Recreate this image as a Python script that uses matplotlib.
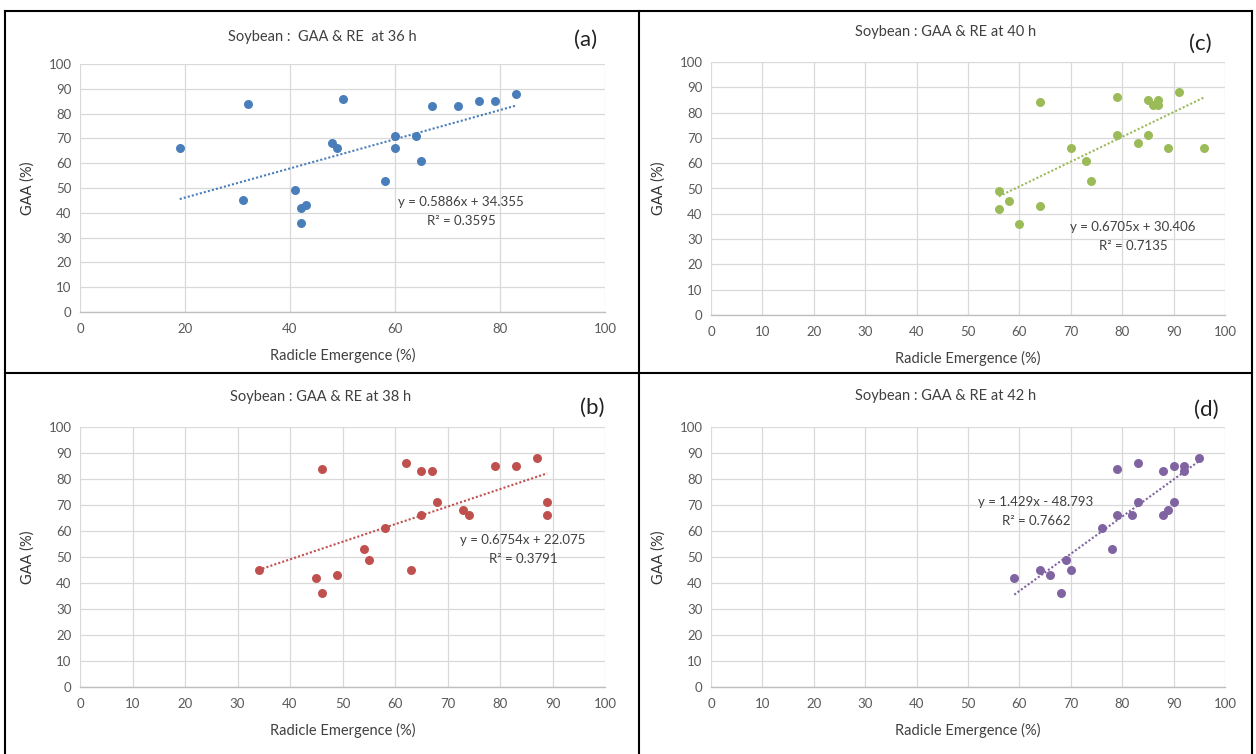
import matplotlib
matplotlib.use('Agg')
import matplotlib.pyplot as plt
import numpy as np
from matplotlib import lines

plt.rcParams['font.family'] = ['Lato', 'DejaVu Sans']

# radicle emergence (%) / GAA (%) per germination time
RE_36 = [19, 31, 32, 41, 42, 42, 43, 48, 49, 50, 58, 60, 60, 64, 65, 67, 72, 76, 79, 83]
GAA_36 = [66, 45, 84, 49, 42, 36, 43, 68, 66, 86, 53, 71, 66, 71, 61, 83, 83, 85, 85, 88]

RE_38 = [34, 45, 46, 46, 49, 54, 55, 58, 62, 63, 65, 65, 67, 68, 73, 74, 79, 83, 87, 89, 89]
GAA_38 = [45, 42, 84, 36, 43, 53, 49, 61, 86, 45, 83, 66, 83, 71, 68, 66, 85, 85, 88, 71, 66]

RE_40 = [56, 56, 58, 60, 64, 64, 70, 73, 74, 79, 79, 83, 85, 85, 86, 87, 87, 89, 91, 96]
GAA_40 = [49, 42, 45, 36, 84, 43, 66, 61, 53, 86, 71, 68, 85, 71, 83, 85, 83, 66, 88, 66]

RE_42 = [59, 64, 66, 68, 69, 70, 76, 78, 79, 79, 82, 83, 83, 88, 88, 89, 90, 90, 92, 92, 95]
GAA_42 = [42, 45, 43, 36, 49, 45, 61, 53, 84, 66, 66, 86, 71, 83, 66, 68, 85, 71, 85, 83, 88]

# trendline labels as printed on the chart: slope, intercept, R^2
FIT_36 = (0.5886, 34.355, 0.3595)
FIT_38 = (0.6754, 22.075, 0.3791)
FIT_40 = (0.6705, 30.406, 0.7135)
FIT_42 = (1.429, -48.793, 0.7662)

# the drawn 40 h trendline does not follow its printed label
LINE_40 = (0.98, -8.0)

TITLES = {
    '36': 'Soybean :  GAA & RE  at 36 h',
    '38': 'Soybean : GAA & RE at 38 h',
    '40': 'Soybean : GAA & RE at 40 h',
    '42': 'Soybean : GAA & RE at 42 h',
}

W, H = 1256, 754
TXT = '#404040'
TICK = '#595959'


def fx(px):
    return px / W


def fy(py):
    return 1 - py / H


def panel(fig, box, re, gaa, fit, color, hours, letter, letter_pos,
          title_pos, eq_pos, xstep, eq_fmt, line=None):
    x0, y0, x1, y1 = box
    ax = fig.add_axes([fx(x0), fy(y1), fx(x1) - fx(x0), fy(y0) - fy(y1)])
    ax.set_xlim(0, 100)
    ax.set_ylim(0, 100)
    ax.set_xticks(np.arange(0, 101, xstep))
    ax.set_yticks(np.arange(0, 101, 10))
    ax.grid(True, color='#D9D9D9', linewidth=0.9)
    ax.set_axisbelow(True)
    for s in ['top', 'right', 'left']:
        ax.spines[s].set_visible(False)
    ax.spines['bottom'].set_color('#BFBFBF')
    ax.spines['bottom'].set_linewidth(1.0)
    ax.tick_params(length=0, labelsize=9.5, colors=TICK, pad=8)
    ax.tick_params(axis='y', pad=6)

    slope, icpt, r2 = fit
    ls, li = line if line else (slope, icpt)
    xt = np.array([min(re), max(re)])
    ax.plot(xt, ls * xt + li, color=color, linestyle=(0, (1, 1)),
            linewidth=1.5, zorder=2)
    ax.scatter(re, gaa, s=42, color=color, zorder=3, linewidths=0)

    ax.set_xlabel('Radicle Emergence (%)', fontsize=10.5, color=TXT, labelpad=9)
    ax.set_ylabel('GAA (%)', fontsize=10.5, color='#333333', labelpad=10)

    ex, ey = eq_pos
    sign = '+' if icpt >= 0 else '-'
    fig.text(fx(ex), fy(ey), eq_fmt.format(slope, sign, abs(icpt)),
             ha='center', va='center', fontsize=9.5, color=TXT)
    fig.text(fx(ex), fy(ey + 19), 'R\u00b2 = {:.4f}'.format(r2),
             ha='center', va='center', fontsize=9.5, color=TXT)

    fig.text(fx(title_pos[0]), fy(title_pos[1]), TITLES[hours],
             ha='center', va='center', fontsize=10.5, color=TXT)
    fig.text(fx(letter_pos[0]), fy(letter_pos[1]), letter,
             ha='center', va='center', fontsize=16, color='#222222')
    return ax


def main():
    fig = plt.figure(figsize=(W / 100, H / 100), dpi=100)
    fig.patch.set_facecolor('white')

    panel(fig, (80, 64, 605, 312), RE_36, GAA_36, FIT_36, '#4A7EBB', '36',
          '(a)', (586, 40), (322, 37), (461, 202), 20,
          'y = {0:.4f}x {1} {2:.3f}')
    panel(fig, (711, 62, 1225, 315), RE_40, GAA_40, FIT_40, '#9BBB59', '40',
          '(c)', (1200, 44), (946, 32), (1133, 227), 10,
          'y = {0:.4f}x {1} {2:.3f}', line=LINE_40)
    panel(fig, (80, 427, 605, 687), RE_38, GAA_38, FIT_38, '#C0504D', '38',
          '(b)', (592, 408), (321, 397), (523, 540), 10,
          'y = {0:.4f}x {1} {2:.3f}')
    panel(fig, (711, 427, 1225, 687), RE_42, GAA_42, FIT_42, '#8064A2', '42',
          '(d)', (1206, 410), (946, 396), (1036, 502), 10,
          'y = {0:.3f}x {1} {2:.3f}')

    # panel frames
    frame = dict(color='black', linewidth=1.5, transform=fig.transFigure)
    fig.add_artist(lines.Line2D([fx(5), fx(1252)], [fy(11), fy(11)], **frame))
    fig.add_artist(lines.Line2D([fx(5), fx(1252)], [fy(373), fy(373)], **frame))
    fig.add_artist(lines.Line2D([fx(5), fx(5)], [fy(11), 0], **frame))
    fig.add_artist(lines.Line2D([fx(639), fx(639)], [fy(11), 0], **frame))
    fig.add_artist(lines.Line2D([fx(1252), fx(1252)], [fy(11), 0], **frame))

    fig.savefig('out.png', dpi=100)
    plt.close(fig)


if __name__ == '__main__':
    main()
